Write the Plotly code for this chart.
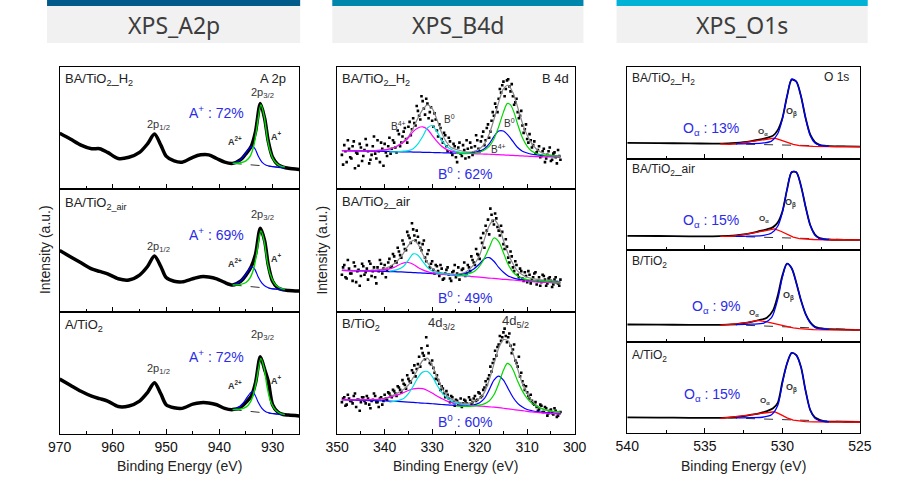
import plotly.graph_objects as go

W, H = 906, 492

# ---------------- A 2p data ----------------
A_E = [970, 968, 966, 964, 962.5, 961, 959, 957, 955, 953.5, 952.2, 951, 950, 948.5, 947, 945, 943.5, 942, 940.5, 939,
       937.5, 936, 935, 934, 933.2, 932.3, 931.5, 930.8, 930, 929, 928, 927, 925]
A_H2 = [0.457, 0.41, 0.36, 0.33, 0.33, 0.30, 0.25, 0.26, 0.30, 0.37, 0.45, 0.36, 0.27, 0.23, 0.22, 0.26, 0.28, 0.28, 0.25, 0.22,
        0.21, 0.24, 0.29, 0.35, 0.47, 0.70, 0.58, 0.39, 0.26, 0.20, 0.18, 0.17, 0.16]
A_AIR = [0.50, 0.45, 0.40, 0.35, 0.33, 0.31, 0.27, 0.26, 0.30, 0.37, 0.455, 0.37, 0.28, 0.25, 0.245, 0.27, 0.287, 0.285, 0.27, 0.24,
         0.22, 0.25, 0.30, 0.37, 0.47, 0.68, 0.58, 0.38, 0.25, 0.195, 0.18, 0.175, 0.17]
A_A = [0.45, 0.40, 0.35, 0.31, 0.29, 0.27, 0.225, 0.23, 0.27, 0.34, 0.42, 0.33, 0.24, 0.215, 0.21, 0.245, 0.257, 0.255, 0.24, 0.21,
       0.20, 0.22, 0.26, 0.31, 0.42, 0.634, 0.53, 0.43, 0.24, 0.18, 0.16, 0.155, 0.148]

A_GREEN_E = [937.5, 936, 935, 934.2, 933.5, 932.9, 932.2, 931.6, 931, 930.4, 929.7, 929, 928.3, 927.7]
A_H2_GREEN = [0.21, 0.215, 0.23, 0.27, 0.36, 0.52, 0.69, 0.60, 0.42, 0.30, 0.23, 0.20, 0.185, 0.18]
A_AIR_GREEN = [0.22, 0.225, 0.24, 0.28, 0.36, 0.50, 0.66, 0.58, 0.41, 0.30, 0.235, 0.205, 0.19, 0.185]
A_A_GREEN = [0.20, 0.205, 0.22, 0.26, 0.34, 0.47, 0.62, 0.54, 0.38, 0.27, 0.21, 0.18, 0.165, 0.16]

A_BLUE_E = [937.5, 936.5, 935.6, 934.8, 934.2, 933.8, 933.3, 932.7, 932, 931.2, 930.3, 929.4, 928.5, 927.7]
A_H2_BLUE = [0.21, 0.225, 0.26, 0.31, 0.34, 0.352, 0.33, 0.27, 0.22, 0.195, 0.185, 0.18, 0.175, 0.17]
A_AIR_BLUE = [0.22, 0.235, 0.27, 0.32, 0.36, 0.37, 0.345, 0.285, 0.235, 0.205, 0.19, 0.185, 0.18, 0.18]
A_A_BLUE = [0.20, 0.215, 0.25, 0.30, 0.335, 0.347, 0.32, 0.26, 0.21, 0.18, 0.17, 0.165, 0.16, 0.158]

A_BASE_E = [937.5, 927.5]
A_H2_BASE = [0.21, 0.175]
A_AIR_BASE = [0.22, 0.18]
A_A_BASE = [0.20, 0.155]

# ---------------- B 4d data ----------------
B_SCAT_E = [349 - 0.5 * i for i in range(93)]
B_SCAT_E2 = [348.75 - 0.5 * i for i in range(92)]
B_H2_SCAT = [0.28, 0.36, 0.22, 0.33, 0.25, 0.39, 0.30, 0.19, 0.34, 0.27,
             0.41, 0.31, 0.24, 0.35, 0.29, 0.40, 0.22, 0.33, 0.37, 0.27,
             0.42, 0.33, 0.38, 0.30, 0.45, 0.38, 0.47, 0.41, 0.51, 0.44,
             0.58, 0.52, 0.64, 0.57, 0.72, 0.61, 0.70, 0.63, 0.56, 0.62,
             0.48, 0.53, 0.41, 0.46, 0.35, 0.42, 0.30, 0.37, 0.26, 0.34,
             0.29, 0.36, 0.25, 0.33, 0.38, 0.28, 0.35, 0.40, 0.31, 0.43,
             0.36, 0.50, 0.42, 0.56, 0.60, 0.67, 0.74, 0.79, 0.88, 0.82,
             0.90, 0.80, 0.76, 0.71, 0.63, 0.60, 0.52, 0.49, 0.41, 0.45,
             0.34, 0.39, 0.30, 0.35, 0.27, 0.33, 0.25, 0.31, 0.23, 0.29,
             0.26, 0.32, 0.24]
B_H2_SCAT2 = [0.20, 0.31, 0.40, 0.26, 0.35, 0.17, 0.29, 0.37, 0.23, 0.32,
              0.36, 0.21, 0.28, 0.43, 0.25, 0.31, 0.38, 0.19, 0.30, 0.35,
              0.29, 0.40, 0.34, 0.48, 0.35, 0.43, 0.50, 0.38, 0.55, 0.49,
              0.54, 0.68, 0.60, 0.76, 0.66, 0.74, 0.58, 0.67, 0.51, 0.57,
              0.43, 0.50, 0.38, 0.44, 0.31, 0.39, 0.28, 0.35, 0.22, 0.38,
              0.27, 0.32, 0.40, 0.26, 0.34, 0.30, 0.44, 0.33, 0.39, 0.47,
              0.40, 0.53, 0.47, 0.63, 0.70, 0.63, 0.82, 0.85, 0.76, 0.89,
              0.84, 0.86, 0.69, 0.74, 0.58, 0.64, 0.46, 0.53, 0.38, 0.40,
              0.36, 0.29, 0.32, 0.26, 0.31, 0.22, 0.28, 0.34, 0.24, 0.30,
              0.21, 0.27]
B_AIR_SCAT = [0.30, 0.38, 0.27, 0.35, 0.31, 0.40, 0.24, 0.34, 0.29, 0.37,
              0.32, 0.26, 0.39, 0.33, 0.28, 0.36, 0.42, 0.31, 0.38, 0.34,
              0.43, 0.37, 0.45, 0.40, 0.49, 0.44, 0.55, 0.50, 0.62, 0.56,
              0.67, 0.58, 0.61, 0.52, 0.55, 0.44, 0.47, 0.36, 0.41, 0.31,
              0.37, 0.29, 0.35, 0.27, 0.34, 0.30, 0.25, 0.33, 0.28, 0.36,
              0.30, 0.35, 0.29, 0.38, 0.33, 0.42, 0.38, 0.47, 0.43, 0.56,
              0.52, 0.66, 0.63, 0.79, 0.71, 0.76, 0.66, 0.70, 0.55, 0.59,
              0.44, 0.49, 0.36, 0.41, 0.30, 0.35, 0.27, 0.32, 0.24, 0.30,
              0.26, 0.31, 0.22, 0.28, 0.24, 0.29, 0.21, 0.27, 0.25, 0.22,
              0.28, 0.23, 0.26]
B_AIR_SCAT2 = [0.36, 0.28, 0.42, 0.31, 0.25, 0.37, 0.33, 0.21, 0.39, 0.30,
               0.35, 0.41, 0.29, 0.36, 0.23, 0.33, 0.39, 0.35, 0.28, 0.40,
               0.36, 0.47, 0.41, 0.52, 0.46, 0.58, 0.51, 0.65, 0.60, 0.72,
               0.62, 0.66, 0.56, 0.50, 0.58, 0.41, 0.50, 0.39, 0.34, 0.38,
               0.33, 0.38, 0.26, 0.31, 0.36, 0.27, 0.32, 0.38, 0.31, 0.26,
               0.34, 0.40, 0.31, 0.36, 0.45, 0.40, 0.51, 0.46, 0.60, 0.64,
               0.70, 0.75, 0.84, 0.74, 0.80, 0.69, 0.62, 0.65, 0.51, 0.53,
               0.40, 0.45, 0.33, 0.38, 0.28, 0.33, 0.25, 0.29, 0.33, 0.23,
               0.28, 0.32, 0.25, 0.21, 0.30, 0.26, 0.23, 0.28, 0.20, 0.26,
               0.24, 0.21]
B_B_SCAT = [0.26, 0.30, 0.24, 0.29, 0.27, 0.31, 0.22, 0.28, 0.26, 0.30,
            0.25, 0.29, 0.21, 0.28, 0.31, 0.26, 0.29, 0.24, 0.32, 0.28,
            0.33, 0.30, 0.35, 0.31, 0.38, 0.34, 0.41, 0.37, 0.45, 0.42,
            0.50, 0.47, 0.57, 0.55, 0.66, 0.61, 0.72, 0.58, 0.60, 0.50,
            0.48, 0.41, 0.39, 0.33, 0.35, 0.29, 0.31, 0.26, 0.28, 0.24,
            0.29, 0.25, 0.27, 0.23, 0.28, 0.26, 0.31, 0.28, 0.33, 0.31,
            0.38, 0.40, 0.48, 0.51, 0.61, 0.64, 0.73, 0.76, 0.83, 0.80,
            0.79, 0.72, 0.69, 0.60, 0.55, 0.47, 0.43, 0.36, 0.34, 0.29,
            0.27, 0.24, 0.22, 0.20, 0.23, 0.18, 0.21, 0.17, 0.20, 0.16,
            0.19, 0.15, 0.18]
B_B_SCAT2 = [0.29, 0.23, 0.32, 0.27, 0.25, 0.33, 0.28, 0.19, 0.30, 0.27,
             0.31, 0.24, 0.27, 0.33, 0.26, 0.22, 0.30, 0.27, 0.29, 0.34,
             0.31, 0.36, 0.33, 0.39, 0.36, 0.44, 0.40, 0.48, 0.43, 0.52,
             0.56, 0.53, 0.63, 0.70, 0.64, 0.79, 0.66, 0.57, 0.54, 0.45,
             0.44, 0.36, 0.37, 0.30, 0.32, 0.26, 0.30, 0.23, 0.27, 0.25,
             0.22, 0.28, 0.25, 0.30, 0.24, 0.29, 0.27, 0.34, 0.30, 0.36,
             0.43, 0.45, 0.55, 0.58, 0.68, 0.71, 0.80, 0.79, 0.86, 0.75,
             0.82, 0.66, 0.73, 0.58, 0.63, 0.50, 0.40, 0.39, 0.31, 0.32,
             0.25, 0.26, 0.19, 0.24, 0.18, 0.22, 0.15, 0.19, 0.17, 0.21,
             0.14, 0.17]

B_E = [349, 346, 343, 340, 338, 336.5, 335, 334, 333, 332, 331, 330, 329, 328, 327, 326, 324.5, 323, 321.5, 320,
       319, 318, 317, 316, 315, 314, 313, 312, 311, 310, 309, 307.5, 306, 304.5, 303]
B_H2_ENV = [0.315, 0.313, 0.312, 0.32, 0.34, 0.375, 0.43, 0.50, 0.58, 0.65, 0.69, 0.66, 0.57, 0.46, 0.385, 0.34, 0.32, 0.305, 0.305, 0.33,
            0.37, 0.45, 0.57, 0.71, 0.82, 0.85, 0.79, 0.67, 0.54, 0.44, 0.37, 0.31, 0.285, 0.275, 0.27]
B_H2_MAG = [0.315, 0.313, 0.312, 0.32, 0.34, 0.37, 0.42, 0.47, 0.50, 0.51, 0.49, 0.44, 0.39, 0.35, 0.325, 0.31, 0.30, 0.295, 0.29, 0.288,
            0.286, 0.285, 0.283, 0.281, 0.279, 0.277, 0.275, 0.273, 0.271, 0.269, 0.267, 0.265, 0.263, 0.262, 0.26]
B_H2_BLUE = [0.315, 0.313, 0.311, 0.309, 0.307, 0.305, 0.304, 0.303, 0.302, 0.301, 0.30, 0.299, 0.298, 0.297, 0.296, 0.295, 0.294, 0.293, 0.297, 0.31,
             0.33, 0.37, 0.43, 0.475, 0.475, 0.44, 0.39, 0.34, 0.31, 0.295, 0.285, 0.277, 0.272, 0.268, 0.265]
B_AIR_ENV = [0.335, 0.333, 0.335, 0.35, 0.39, 0.45, 0.54, 0.58, 0.55, 0.47, 0.40, 0.35, 0.325, 0.315, 0.31, 0.305, 0.305, 0.32, 0.37, 0.46,
             0.59, 0.70, 0.75, 0.70, 0.58, 0.47, 0.39, 0.33, 0.30, 0.28, 0.27, 0.26, 0.255, 0.25, 0.245]
B_AIR_MAG = [0.335, 0.333, 0.332, 0.34, 0.36, 0.39, 0.40, 0.385, 0.36, 0.34, 0.325, 0.315, 0.31, 0.305, 0.30, 0.297, 0.293, 0.29, 0.285, 0.28,
             0.277, 0.273, 0.27, 0.267, 0.263, 0.26, 0.257, 0.253, 0.25, 0.247, 0.244, 0.24, 0.237, 0.234, 0.23]
B_AIR_BLUE = [0.335, 0.332, 0.33, 0.327, 0.325, 0.323, 0.32, 0.318, 0.316, 0.314, 0.312, 0.31, 0.308, 0.306, 0.304, 0.302, 0.30, 0.31, 0.34, 0.39,
              0.43, 0.44, 0.41, 0.36, 0.32, 0.29, 0.275, 0.265, 0.26, 0.255, 0.25, 0.247, 0.244, 0.24, 0.237]
B_B_ENV = [0.28, 0.278, 0.28, 0.29, 0.32, 0.35, 0.40, 0.46, 0.53, 0.60, 0.62, 0.56, 0.47, 0.38, 0.32, 0.285, 0.26, 0.25, 0.26, 0.29,
           0.34, 0.44, 0.57, 0.70, 0.77, 0.76, 0.66, 0.53, 0.41, 0.33, 0.27, 0.22, 0.195, 0.18, 0.175]
B_B_MAG = [0.28, 0.278, 0.28, 0.29, 0.31, 0.33, 0.355, 0.368, 0.373, 0.37, 0.355, 0.335, 0.31, 0.29, 0.27, 0.258, 0.245, 0.238, 0.232, 0.228,
           0.225, 0.222, 0.219, 0.215, 0.21, 0.205, 0.20, 0.195, 0.19, 0.185, 0.18, 0.175, 0.17, 0.166, 0.163]
B_B_BLUE = [0.28, 0.277, 0.273, 0.27, 0.267, 0.264, 0.261, 0.258, 0.255, 0.252, 0.25, 0.247, 0.244, 0.241, 0.238, 0.235, 0.232, 0.23, 0.235, 0.255,
            0.29, 0.36, 0.44, 0.473, 0.44, 0.37, 0.30, 0.25, 0.22, 0.20, 0.19, 0.18, 0.175, 0.17, 0.165]

B_CYAN_E = [339, 337.5, 336, 335, 334, 333, 332, 331, 330, 329, 328, 327, 325.5, 324, 322]
B_H2_CYAN = [0.305, 0.305, 0.31, 0.315, 0.33, 0.37, 0.43, 0.50, 0.52, 0.47, 0.40, 0.35, 0.315, 0.30, 0.292]
B_AIR_CYAN = [0.33, 0.34, 0.37, 0.42, 0.47, 0.46, 0.41, 0.36, 0.33, 0.315, 0.31, 0.305, 0.30, 0.295, 0.29]
B_B_CYAN = [0.26, 0.27, 0.29, 0.33, 0.39, 0.46, 0.505, 0.51, 0.47, 0.40, 0.34, 0.30, 0.26, 0.245, 0.24]

B_GREEN_E = [325, 323, 321, 319.5, 318, 317, 316, 315, 314.2, 313.5, 312.7, 312, 311, 310, 309, 307.5, 306, 304.5, 303]
B_H2_GREEN = [0.292, 0.29, 0.295, 0.31, 0.35, 0.41, 0.51, 0.63, 0.70, 0.69, 0.62, 0.53, 0.42, 0.35, 0.31, 0.285, 0.275, 0.27, 0.268]
B_AIR_GREEN = [0.29, 0.30, 0.33, 0.40, 0.52, 0.60, 0.57, 0.48, 0.40, 0.35, 0.31, 0.29, 0.27, 0.26, 0.255, 0.25, 0.245, 0.24, 0.235]
B_B_GREEN = [0.23, 0.225, 0.23, 0.24, 0.27, 0.32, 0.41, 0.52, 0.577, 0.56, 0.50, 0.43, 0.35, 0.29, 0.25, 0.215, 0.195, 0.185, 0.18]

# ---------------- O 1s data ----------------
O_E = [540, 538, 536, 534.5, 533.5, 533, 532.5, 532, 531.5, 531, 530.6, 530.3, 530, 529.7, 529.4, 529.1, 528.8, 528.5, 528.2, 527.9,
       527.6, 527.3, 527, 526, 525]
O_H2 = [0.17, 0.168, 0.165, 0.163, 0.165, 0.17, 0.178, 0.19, 0.205, 0.225, 0.25, 0.31, 0.44, 0.68, 0.86, 0.84, 0.68, 0.44, 0.26, 0.18,
        0.15, 0.14, 0.135, 0.132, 0.13]
O_AIR = [0.155, 0.153, 0.15, 0.15, 0.155, 0.16, 0.17, 0.185, 0.205, 0.225, 0.25, 0.30, 0.42, 0.66, 0.85, 0.85, 0.70, 0.47, 0.27, 0.17,
         0.13, 0.12, 0.115, 0.11, 0.11]
O_B = [0.186, 0.184, 0.182, 0.182, 0.185, 0.19, 0.20, 0.215, 0.235, 0.26, 0.34, 0.50, 0.72, 0.85, 0.80, 0.64, 0.45, 0.30, 0.21, 0.16,
       0.145, 0.138, 0.135, 0.13, 0.128]
O_A = [0.17, 0.168, 0.166, 0.165, 0.168, 0.175, 0.185, 0.20, 0.215, 0.24, 0.27, 0.33, 0.56, 0.76, 0.875, 0.85, 0.72, 0.46, 0.25, 0.17,
       0.145, 0.13, 0.125, 0.123, 0.122]

O_RED_E = [534, 533.4, 532.8, 532.2, 531.6, 531, 530.5, 530.1, 529.7, 529.3, 528.9, 528.5, 528, 527, 526, 525]
O_H2_RED = [0.16, 0.155, 0.165, 0.18, 0.195, 0.21, 0.223, 0.20, 0.175, 0.155, 0.14, 0.135, 0.132, 0.13, 0.13, 0.13]
O_AIR_RED = [0.15, 0.15, 0.16, 0.175, 0.195, 0.215, 0.23, 0.205, 0.17, 0.14, 0.125, 0.118, 0.115, 0.112, 0.11, 0.11]
O_B_RED = [0.18, 0.185, 0.195, 0.21, 0.23, 0.215, 0.195, 0.175, 0.16, 0.15, 0.14, 0.135, 0.13, 0.128, 0.128, 0.128]
O_A_RED = [0.16, 0.17, 0.18, 0.195, 0.21, 0.225, 0.232, 0.20, 0.165, 0.14, 0.13, 0.125, 0.122, 0.12, 0.12, 0.12]

O_BLUE_E = [533, 532, 531.2, 530.7, 530.3, 530, 529.7, 529.4, 529.1, 528.8, 528.5, 528.2, 527.9, 527.6, 527.3, 527]
O_H2_BLUE = [0.16, 0.162, 0.17, 0.19, 0.27, 0.43, 0.68, 0.87, 0.84, 0.68, 0.44, 0.25, 0.17, 0.145, 0.135, 0.135]
O_AIR_BLUE = [0.15, 0.152, 0.16, 0.185, 0.26, 0.41, 0.66, 0.855, 0.85, 0.70, 0.47, 0.27, 0.16, 0.125, 0.115, 0.115]
O_B_BLUE = [0.185, 0.19, 0.20, 0.26, 0.46, 0.70, 0.85, 0.80, 0.64, 0.45, 0.30, 0.20, 0.155, 0.14, 0.135, 0.133]
O_A_BLUE = [0.165, 0.167, 0.175, 0.20, 0.30, 0.54, 0.76, 0.875, 0.85, 0.72, 0.46, 0.25, 0.16, 0.135, 0.125, 0.123]

O_BASE_E = [533.5, 525]
O_H2_BASE = [0.16, 0.13]
O_AIR_BASE = [0.15, 0.11]
O_B_BASE = [0.185, 0.128]
O_A_BASE = [0.165, 0.12]

HEADERS = ["XPS_A2p", "XPS_B4d", "XPS_O1s"]
HEADER_COLORS = ["#005b8a", "#0086ad", "#00b2d6"]

FONT = "Liberation Sans, Arial, sans-serif"

# ---------------- layout geometry ----------------
panels = [
    dict(x=(49, 295), ys=[(67, 189), (189, 312), (312, 434)], rng=[970, 925], dtick=10, minor=5, tick0=930),
    dict(x=(334, 578), ys=[(67, 189), (189, 311.5), (311.5, 434)], rng=[350, 300], dtick=10, minor=5, tick0=300),
    dict(x=(632, 871), ys=[(67, 158.5), (158.5, 250), (250, 341.5), (341.5, 433)], rng=[540, 525], dtick=5, minor=2.5, tick0=525),
]

fig = go.Figure()
layout = {}
k = 0
axis_ids = []
for p in panels:
    ids = []
    n = len(p["ys"])
    for j, (y0, y1) in enumerate(p["ys"]):
        k += 1
        xname = "xaxis" if k == 1 else f"xaxis{k}"
        yname = "yaxis" if k == 1 else f"yaxis{k}"
        last = (j == n - 1)
        layout[xname] = dict(
            domain=[p["x"][0] / W, p["x"][1] / W], range=p["rng"], autorange=False,
            anchor="y" if k == 1 else f"y{k}",
            showline=True, mirror=True, linecolor="black", linewidth=1,
            ticks="inside", ticklen=5, tickcolor="black", tickwidth=1,
            tick0=p["tick0"], dtick=p["dtick"],
            minor=dict(dtick=p["minor"], ticks="inside", ticklen=3, tickcolor="black", tickwidth=1),
            showticklabels=last, tickfont=dict(family=FONT, size=14, color="#111"),
            showgrid=False, zeroline=False,
        )
        layout[yname] = dict(
            domain=[1 - y1 / H, 1 - y0 / H], range=[0, 1], autorange=False,
            anchor="x" if k == 1 else f"x{k}",
            showline=True, mirror=True, linecolor="black", linewidth=1,
            ticks="", showticklabels=False, showgrid=False, zeroline=False,
        )
        ids.append(("x" if k == 1 else f"x{k}", "y" if k == 1 else f"y{k}"))
    axis_ids.append(ids)


def line(ax, x, y, color, width=1.2, dash="solid", shape="spline"):
    fig.add_trace(go.Scatter(x=x, y=y, mode="lines", xaxis=ax[0], yaxis=ax[1],
                             line=dict(color=color, width=width, dash=dash, shape=shape, smoothing=0.8),
                             showlegend=False, hoverinfo="skip"))


GREEN = "#00d800"
BLUE = "#0000ff"
CYAN = "#00e0e0"
MAG = "#ff00ff"
RED = "#ff0000"
DASH = "#333333"

# A 2p
for ax, data, green, blue, base in zip(axis_ids[0],
                                       [A_H2, A_AIR, A_A],
                                       [A_H2_GREEN, A_AIR_GREEN, A_A_GREEN],
                                       [A_H2_BLUE, A_AIR_BLUE, A_A_BLUE],
                                       [A_H2_BASE, A_AIR_BASE, A_A_BASE]):
    line(ax, A_E, data, "black", width=3.5)
    line(ax, A_BASE_E, base, DASH, width=1, dash="dash", shape="linear")
    line(ax, A_BLUE_E, blue, BLUE, width=1.2)
    line(ax, A_GREEN_E, green, GREEN, width=1.4)

# B 4d
for ax, scat, scat2, env, mag, blue, cyan, green in zip(axis_ids[1],
                                                        [B_H2_SCAT, B_AIR_SCAT, B_B_SCAT],
                                                        [B_H2_SCAT2, B_AIR_SCAT2, B_B_SCAT2],
                                                        [B_H2_ENV, B_AIR_ENV, B_B_ENV],
                                                        [B_H2_MAG, B_AIR_MAG, B_B_MAG],
                                                        [B_H2_BLUE, B_AIR_BLUE, B_B_BLUE],
                                                        [B_H2_CYAN, B_AIR_CYAN, B_B_CYAN],
                                                        [B_H2_GREEN, B_AIR_GREEN, B_B_GREEN]):
    for xs, ys in [(B_SCAT_E, scat), (B_SCAT_E2, scat2)]:
        fig.add_trace(go.Scatter(x=xs, y=ys, mode="markers", xaxis=ax[0], yaxis=ax[1],
                                 marker=dict(symbol="square", size=2.6, color="black", line=dict(width=0)),
                                 showlegend=False, hoverinfo="skip"))
    line(ax, B_E, env, "#888888", width=1.2)
    line(ax, B_E, blue, BLUE, width=1.2)
    line(ax, B_E, mag, MAG, width=1.2)
    line(ax, B_CYAN_E, cyan, CYAN, width=1.2)
    line(ax, B_GREEN_E, green, GREEN, width=1.2)

# O 1s
for ax, data, red, blue, base in zip(axis_ids[2],
                                     [O_H2, O_AIR, O_B, O_A],
                                     [O_H2_RED, O_AIR_RED, O_B_RED, O_A_RED],
                                     [O_H2_BLUE, O_AIR_BLUE, O_B_BLUE, O_A_BLUE],
                                     [O_H2_BASE, O_AIR_BASE, O_B_BASE, O_A_BASE]):
    line(ax, O_E, data, "black", width=1.8)
    line(ax, O_BASE_E, base, DASH, width=1, dash="dash", shape="linear")
    line(ax, O_RED_E, red, RED, width=1.3, shape="linear")
    line(ax, O_BLUE_E, blue, BLUE, width=1.3)

# ---------------- headers ----------------
shapes = []
annotations = []
hdr_x = [(36, 296), (329, 587), (621, 879)]
for (x0, x1), txt_, col in zip(hdr_x, HEADERS, HEADER_COLORS):
    shapes.append(dict(type="rect", xref="paper", yref="paper", x0=x0 / W, x1=x1 / W,
                       y0=1 - 6 / H, y1=1, fillcolor=col, line=dict(width=0), layer="above"))
    shapes.append(dict(type="rect", xref="paper", yref="paper", x0=x0 / W, x1=x1 / W,
                       y0=1 - 43 / H, y1=1 - 6 / H, fillcolor="#f1f1f1", line=dict(width=0), layer="below"))
    annotations.append(dict(text=txt_, x=(x0 + x1) / 2 / W, y=1 - 24.5 / H, xref="paper", yref="paper",
                            showarrow=False, xanchor="center", yanchor="middle",
                            font=dict(family="Noto Sans, sans-serif", size=23, color="#3d3d3d")))


def txt(t, x, y, size=13, color="#222", anchor="left", family=FONT):
    annotations.append(dict(text=t, x=x / W, y=1 - y / H, xref="paper", yref="paper", showarrow=False,
                            xanchor=anchor, yanchor="middle", font=dict(family=family, size=size, color=color)))


PCT = "#2b2be8"
LBL = "#333333"

# A 2p texts
txt("BA/TiO<sub>2</sub>_H<sub>2</sub>", 52, 79, 13)
txt("A 2p", 284, 78, 13, anchor="right")
txt("BA/TiO<sub>2_air</sub>", 52, 203, 13)
txt("A/TiO<sub>2</sub>", 52, 325, 13)
for dy, pct in [(0, "72%"), (122, "69%"), (244, "72%")]:
    txt("2p<sub>3/2</sub>", 257, 93 + dy - (2 if dy == 244 else 0), 11, LBL, "center")
    txt("2p<sub>1/2</sub>", 150, 125 + dy, 11, LBL, "center")
    txt("A<sup>+</sup> : " + pct, 210, 112 + dy, 14, PCT, "center")
    txt("<b>A<sup>2+</sup></b>", 229, 141 + dy, 9, LBL, "center")
    txt("<b>A<sup>+</sup></b>", 272, 136 + dy, 9, LBL, "center")

# B 4d texts
txt("BA/TiO<sub>2</sub>_H<sub>2</sub>", 337, 79, 13)
txt("B 4d", 574, 78, 13, anchor="right")
txt("B<sup>4+</sup>", 397, 126, 10, LBL, "center")
txt("B<sup>0</sup>", 449, 119, 10, LBL, "center")
txt("B<sup>0</sup>", 511, 123, 10, LBL, "center")
txt("B<sup>4+</sup>", 500, 149, 10, LBL, "center")
txt("B<sup>0</sup> : 62%", 466, 173, 14, PCT, "center")
txt("BA/TiO<sub>2</sub>_air", 337, 202, 13)
txt("B<sup>0</sup> : 49%", 466, 297, 14, PCT, "center")
txt("B/TiO<sub>2</sub>", 337, 324, 13)
txt("4d<sub>3/2</sub>", 441, 323, 13, LBL, "center")
txt("4d<sub>5/2</sub>", 517, 321, 13, LBL, "center")
txt("B<sup>0</sup> : 60%", 466, 421, 14, PCT, "center")

# O 1s texts
txt("BA/TiO<sub>2</sub>_H<sub>2</sub>", 635, 79, 12)
txt("O 1s", 862, 77, 12, anchor="right")
txt("BA/TiO<sub>2</sub>_air", 635, 170, 12)
txt("B/TiO<sub>2</sub>", 635, 262, 12)
txt("A/TiO<sub>2</sub>", 635, 356, 12)
for yb, pct, xa in [(129, "13%", 718), (221, "15%", 718), (307, "9%", 723), (395, "15%", 719)]:
    txt("O<sub>α</sub> : " + pct, xa, yb, 14, PCT, "center")
o_small = [(771, 132, 801, 112), (772, 219, 800, 203), (762, 313, 798, 296), (773, 401, 801, 388)]
for ax_, ay_, bx_, by_ in o_small:
    txt("<b>O<sub>α</sub></b>", ax_, ay_, 8, LBL, "center")
    txt("<b>O<sub>β</sub></b>", bx_, by_, 9, LBL, "center")

# axis titles
for cx in [172, 456, 751.5]:
    txt("Binding Energy (eV)", cx, 466, 14, "#222", "center")
for yx in [34, 318]:
    annotations.append(dict(text="Intensity (a.u.)", x=yx / W, y=1 - 250 / H, xref="paper", yref="paper",
                            showarrow=False, textangle=-90, xanchor="center", yanchor="middle",
                            font=dict(family=FONT, size=14, color="#222")))

fig.update_layout(**layout)
fig.update_layout(width=W, height=H, margin=dict(l=0, r=0, t=0, b=0), autosize=False,
                  paper_bgcolor="white", plot_bgcolor="white", showlegend=False,
                  shapes=shapes, annotations=annotations)

fig.write_html("out.html")
